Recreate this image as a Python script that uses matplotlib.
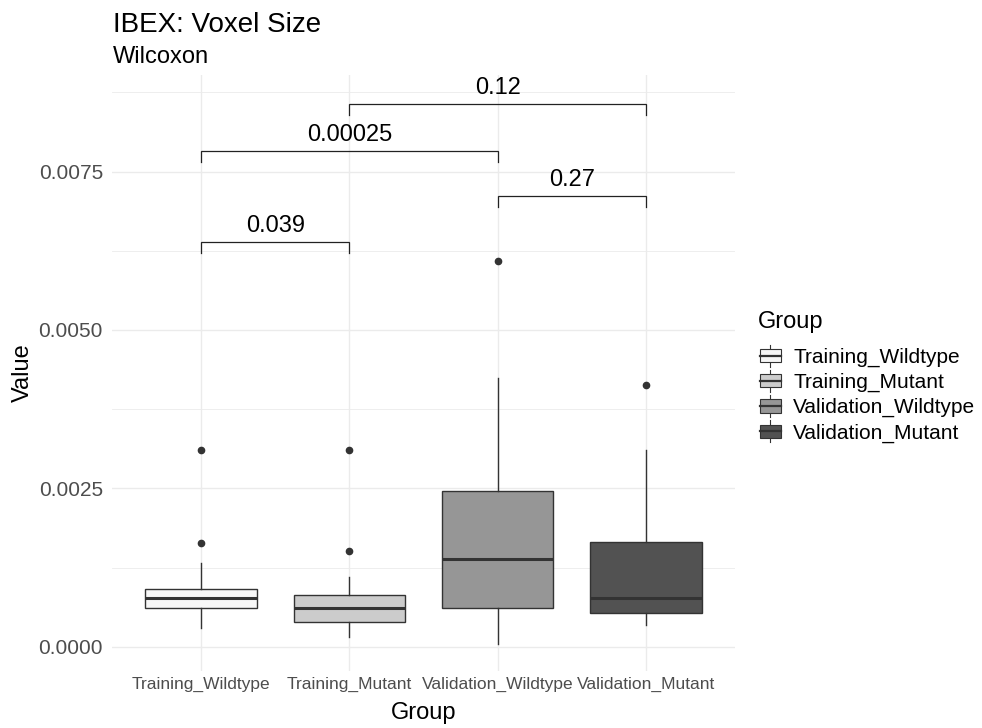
import matplotlib as mpl
mpl.use("Agg")
import matplotlib.pyplot as plt
from matplotlib.legend_handler import HandlerBase
from matplotlib.patches import Rectangle
from matplotlib.lines import Line2D

# fonts
mpl.rcParams['font.family'] = ['Liberation Sans', 'DejaVu Sans']

# data
groups = ['Training_Wildtype', 'Training_Mutant', 'Validation_Wildtype', 'Validation_Mutant']
fills = ['#F7F7F7', '#CCCCCC', '#969696', '#525252']
whislo = [0.00029, 0.000158, 0.0000426, 0.000342]
q1 = [0.000606, 0.000385, 0.000606, 0.000537]
med = [0.000764, 0.000611, 0.001389, 0.000769]
q3 = [0.000906, 0.000811, 0.002462, 0.001652]
whishi = [0.001316, 0.001095, 0.004236, 0.003104]
fliers = [[0.001632, 0.00310], [0.001515, 0.00310], [0.006087], [0.00413]]

# wilcoxon comparisons: (group a, group b, bracket height, label)
cmp_a = [1, 1, 3, 2]
cmp_b = [2, 3, 4, 4]
cmp_y = [0.00639, 0.00782, 0.00711, 0.00857]
cmp_lab = ['0.039', '0.00025', '0.27', '0.12']

yticks = [0.0, 0.0025, 0.005, 0.0075]
ytick_labels = ['0.0000', '0.0025', '0.0050', '0.0075']

W, H = 982, 728
fig = plt.figure(figsize=(W / 100, H / 100), dpi=100)
ax = fig.add_axes([112 / W, 1 - 671 / H, (735 - 112) / W, (671 - 75) / H])

stats = []
for i in range(len(groups)):
    stats.append(dict(whislo=whislo[i], q1=q1[i], med=med[i], q3=q3[i],
                      whishi=whishi[i], fliers=fliers[i], label=groups[i]))

pos = list(range(1, len(groups) + 1))
bp = ax.bxp(stats, positions=pos, widths=0.75, patch_artist=True, showcaps=False,
            boxprops=dict(edgecolor='#333333', linewidth=1.0),
            whiskerprops=dict(color='#333333', linewidth=1.0),
            medianprops=dict(color='#333333', linewidth=2.2),
            flierprops=dict(marker='o', markersize=4.5, markerfacecolor='#333333',
                            markeredgecolor='#333333'))
for patch, c in zip(bp['boxes'], fills):
    patch.set_facecolor(c)
for b in bp['boxes'] + bp['whiskers'] + bp['medians'] + bp['fliers']:
    b.set_zorder(3)

# significance brackets
tick = 0.000174
for a, b, y, lab in zip(cmp_a, cmp_b, cmp_y, cmp_lab):
    ax.plot([a, a, b, b], [y - tick, y, y, y - tick], color='#222222', lw=0.9,
            zorder=4, solid_joinstyle='miter')
    ax.annotate(lab, xy=((a + b) / 2, y), xytext=(0, 3.5), textcoords='offset points',
                ha='center', va='bottom', fontsize=17, color='black')

ax.set_xlim(0.4, 4.6)
ax.set_ylim(-0.000383, 0.009023)
ax.set_xticks(pos)
ax.set_xticklabels(groups, fontsize=12.5, color='#4D4D4D')
ax.set_yticks(yticks)
ax.set_yticklabels(ytick_labels, fontsize=15, color='#4D4D4D')
ax.set_yticks([0.00125, 0.00375, 0.00625, 0.00875], minor=True)
ax.tick_params(axis='both', which='both', length=0)
ax.tick_params(axis='y', pad=6.5)
ax.tick_params(axis='x', pad=4)
ax.grid(True, which='major', color='#EBEBEB', lw=1.0, zorder=0)
ax.grid(True, which='minor', axis='y', color='#EBEBEB', lw=0.6, zorder=0)
ax.set_axisbelow(True)
for s in ax.spines.values():
    s.set_visible(False)

# titles and axis titles
fig.text(113 / W, 1 - 31.7 / H, 'IBEX: Voxel Size', fontsize=20, ha='left', va='baseline')
fig.text(113 / W, 1 - 63.3 / H, 'Wilcoxon', fontsize=17, ha='left', va='baseline')
fig.text(23 / W, 1 - 373 / H, 'Value', fontsize=17, rotation=90, ha='center', va='center')
fig.text(423.5 / W, 1 - 718.7 / H, 'Group', fontsize=17, ha='center', va='baseline')


# legend key drawn like a small boxplot
class BoxKey(HandlerBase):
    def create_artists(self, legend, orig_handle, xdescent, ydescent, width, height,
                       fontsize, trans):
        x0, y0 = -xdescent, -ydescent
        fc = orig_handle.get_facecolor()
        cx = x0 + width / 2
        rect = Rectangle((x0, y0 + 0.16 * height), width, 0.68 * height, facecolor=fc,
                         edgecolor='#333333', lw=0.8, transform=trans)
        mid = Line2D([x0, x0 + width], [y0 + 0.5 * height] * 2, color='#333333', lw=1.6,
                     transform=trans)
        lo = Line2D([cx, cx], [y0 - 1, y0 + 0.16 * height], color='#333333', lw=0.8,
                    transform=trans)
        hi = Line2D([cx, cx], [y0 + 0.84 * height, y0 + height + 1], color='#333333', lw=0.8,
                    transform=trans)
        return [lo, hi, rect, mid]


# legend title placed on its own, the entries below it
fig.text(758 / W, 1 - 328 / H, 'Group', fontsize=17, ha='left', va='baseline')
handles = [Rectangle((0, 0), 1, 1, facecolor=c) for c in fills]
leg = fig.legend(handles, groups, loc='upper left', bbox_to_anchor=(760 / W, 1 - 346 / H),
                 frameon=False, fontsize=15,
                 handler_map={Rectangle: BoxKey()}, handlelength=1.0, handleheight=1.05,
                 handletextpad=0.6, labelspacing=0.2, borderpad=0, borderaxespad=0)

fig.savefig('out.png', dpi=100)
